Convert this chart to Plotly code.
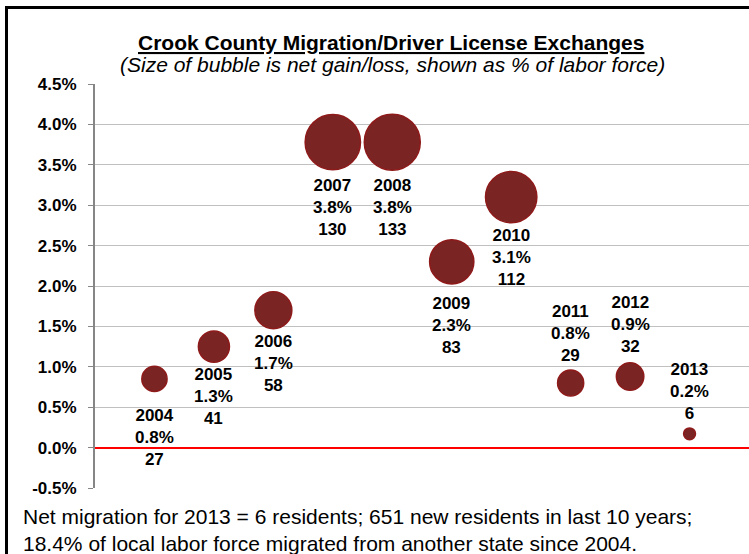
import math
import plotly.graph_objects as go

# data
years = [2004, 2005, 2006, 2007, 2008, 2009, 2010, 2011, 2012, 2013]
pct_labor_force = [0.85, 1.25, 1.7, 3.78, 3.78, 2.3, 3.1, 0.8, 0.88, 0.17]
pct_labels = ["0.8%", "1.3%", "1.7%", "3.8%", "3.8%", "2.3%", "3.1%", "0.8%", "0.9%", "0.2%"]
net_residents = [27, 41, 58, 130, 133, 83, 112, 29, 32, 6]

y_ticks = [-0.5, 0.0, 0.5, 1.0, 1.5, 2.0, 2.5, 3.0, 3.5, 4.0, 4.5]

# label placement (styling): which side of the bubble, and extra gap in px
label_side = ["below"] * 7 + ["above"] * 3
label_gap = [12, 1, 1, 4, 4, 8, 1, 3, 5, 3]

W, H = 749, 554
L, R, T, B = 95, 0, 84, 66
plot_w = W - L - R
plot_h = H - T - B
font = "Liberation Sans, Arial, sans-serif"


def px_x(p):
    return (p - L) / plot_w


def px_y(p):
    return (H - B - p) / plot_h


max_diam = 56
sizeref = 2.0 * max(net_residents) / max_diam ** 2

fig = go.Figure()
fig.add_trace(go.Scatter(
    x=years,
    y=pct_labor_force,
    mode="markers",
    marker=dict(
        size=net_residents,
        sizemode="area",
        sizeref=sizeref,
        color="rgb(122,36,36)",
        opacity=1,
        line=dict(color="rgb(142,26,26)", width=1.5),
    ),
    cliponaxis=False,
    showlegend=False,
    hoverinfo="skip",
))

# three-line labels next to each bubble
for yr, val, pl, n, side, gap in zip(years, pct_labor_force, pct_labels,
                                     net_residents, label_side, label_gap):
    radius = math.sqrt(n / (2 * sizeref))
    shift = radius + gap
    fig.add_annotation(
        x=yr, y=val, xref="x", yref="y",
        text=f"{yr}<br>{pl}<br>{n}",
        showarrow=False, xanchor="center",
        yanchor="top" if side == "below" else "bottom",
        yshift=-shift if side == "below" else shift,
        font=dict(family=font, size=17, color="black", weight="bold"),
    )

fig.add_annotation(
    x=px_x(391), y=px_y(43), xref="paper", yref="paper",
    text="<u>Crook County Migration/Driver License Exchanges</u>",
    showarrow=False, xanchor="center", yanchor="middle",
    font=dict(family=font, size=21, color="black", weight="bold"),
)
fig.add_annotation(
    x=px_x(392), y=px_y(65), xref="paper", yref="paper",
    text="<i>(Size of bubble is net gain/loss, shown as % of labor force)</i>",
    showarrow=False, xanchor="center", yanchor="middle",
    font=dict(family=font, size=21, color="black"),
)
fig.add_annotation(
    x=px_x(21), y=px_y(503), xref="paper", yref="paper",
    text="Net migration for 2013 = 6 residents; 651 new residents in last 10 years;"
         "<br>18.4% of local labor force migrated from another state since 2004.",
    showarrow=False, xanchor="left", yanchor="top", align="left",
    font=dict(family=font, size=21, color="black"),
)

# outer frame of the original slide
fig.add_shape(
    type="rect", xref="paper", yref="paper",
    x0=px_x(6.5), x1=px_x(800), y0=px_y(600), y1=px_y(7.5),
    line=dict(color="black", width=3), fillcolor="rgba(0,0,0,0)",
)

fig.update_layout(
    width=W, height=H,
    margin=dict(l=L, r=R, t=T, b=B, pad=0),
    paper_bgcolor="white",
    plot_bgcolor="white",
    font=dict(family=font, color="black"),
    xaxis=dict(
        range=[2003, 2014],
        showticklabels=False,
        showgrid=False,
        zeroline=False,
        ticks="",
    ),
    yaxis=dict(
        range=[-0.5, 4.5],
        tickvals=y_ticks,
        ticktext=[f"{v:.1f}%" for v in y_ticks],
        tickfont=dict(family=font, size=17, color="black", weight="bold"),
        showgrid=True,
        gridcolor="rgb(192,192,192)",
        gridwidth=1,
        showline=True,
        linecolor="rgb(134,134,134)",
        linewidth=2,
        ticks="outside",
        ticklen=5,
        tickcolor="rgb(134,134,134)",
        ticklabelstandoff=8,
        zeroline=True,
        zerolinecolor="red",
        zerolinewidth=2,
    ),
)

# page body has a default 8px margin; drop it so the figure sits at the corner
fig.write_html(
    "out.html",
    config={"displayModeBar": False},
    post_script="document.body.style.margin = '0';",
)
